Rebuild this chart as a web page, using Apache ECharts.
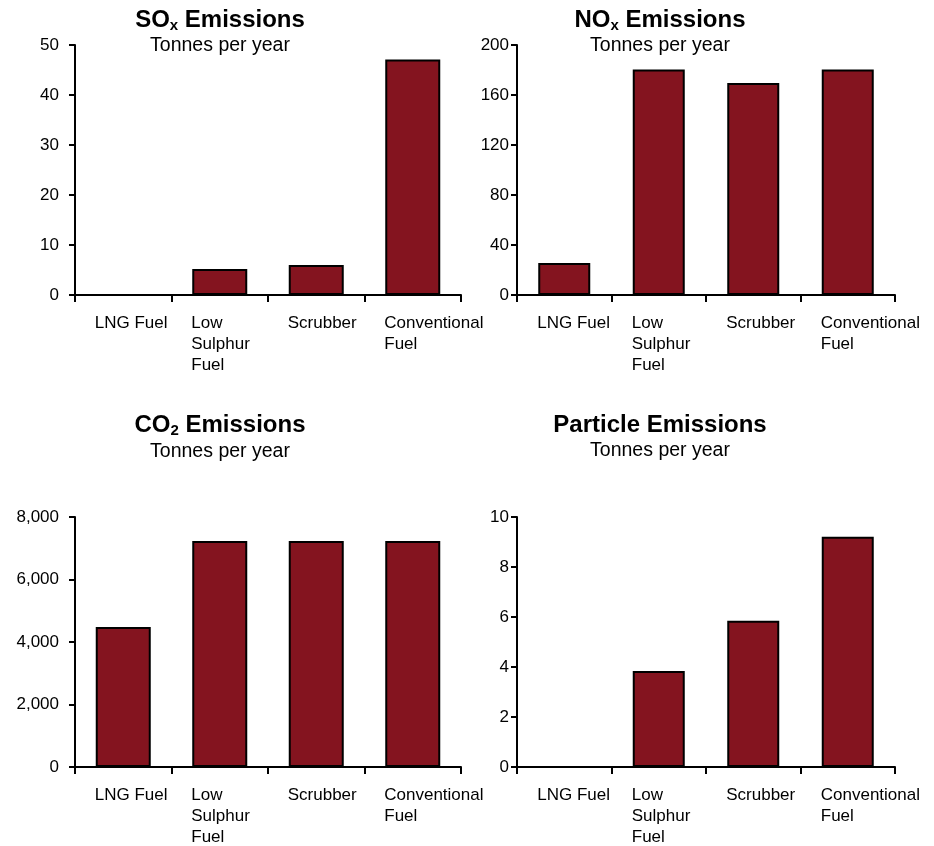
<!DOCTYPE html>
<html>
<head>
<meta charset="utf-8">
<script src="https://cdn.jsdelivr.net/npm/echarts@6/dist/echarts.min.js"></script>
<style>
html,body{margin:0;padding:0;background:#fff;}
#chart{width:934px;height:846px;}
</style>
</head>
<body>
<div id="chart"></div>
<script>
var categories = ['LNG Fuel', 'Low\nSulphur\nFuel', 'Scrubber', 'Conventional\nFuel'];
var soxValues = [0, 5.2, 6.0, 47.1];
var noxValues = [25.6, 180.5, 169.6, 180.5];
var co2Values = [4480, 7230, 7230, 7230];
var particleValues = [0, 3.84, 5.85, 9.21];
var panelTitles = [['SO', 'x', ' Emissions'], ['NO', 'x', ' Emissions'], ['CO', '2', ' Emissions'], ['Particle Emissions', '', '']];
var subtitle = 'Tonnes per year';
var yMax = [50, 200, 8000, 10];
var yInterval = [10, 40, 2000, 2];

var FONT = 'Arial, "Liberation Sans", Helvetica, sans-serif';
var BAR_COLOR = '#84141F';

var grids = [
  {left: 75, top: 45, width: 386, height: 250},
  {left: 517, top: 45, width: 378, height: 250},
  {left: 75, top: 517, width: 386, height: 250},
  {left: 517, top: 517, width: 378, height: 250}
];
var barWidths = [55, 52, 55, 52];
var titleCenters = [[220, 22], [660, 22], [220, 427], [660, 425]];
var subCenters = [[220, 46], [660, 46], [220, 452], [660, 451]];
var yLabelMargin = [16, 8, 16, 8];
var seriesData = [soxValues, noxValues, co2Values, particleValues];

var titles = [];
panelTitles.forEach(function (t, i) {
  var txt = '{a|' + t[0] + '}' + (t[1] ? '{b|' + t[1] + '}' : '') + (t[2] ? '{a|' + t[2] + '}' : '');
  titles.push({
    text: txt,
    left: titleCenters[i][0],
    top: titleCenters[i][1] - (t[1] ? 2 : 0),
    textAlign: 'center',
    textVerticalAlign: 'middle',
    padding: 0,
    textStyle: {
      rich: {
        a: {fontFamily: FONT, fontSize: 24, fontWeight: 'bold', color: '#000', lineHeight: 24, verticalAlign: 'top'},
        b: {fontFamily: FONT, fontSize: 15, fontWeight: 'bold', color: '#000', lineHeight: 15, padding: [12, 0, 0, 0]}
      }
    }
  });
  titles.push({
    text: subtitle,
    left: subCenters[i][0],
    top: subCenters[i][1],
    textAlign: 'center',
    textVerticalAlign: 'middle',
    padding: 0,
    textStyle: {fontFamily: FONT, fontSize: 19.5, fontWeight: 'normal', color: '#000'}
  });
});

function catFormatter(v) {
  return v.split('\n').map(function (s) { return '{c|' + s + '}'; }).join('\n');
}

var xAxes = [], yAxes = [], series = [];
for (var i = 0; i < 4; i++) {
  var bw = barWidths[i];
  xAxes.push({
    type: 'category',
    gridIndex: i,
    data: categories,
    boundaryGap: true,
    axisLine: {lineStyle: {color: '#000', width: 2}},
    axisTick: {show: true, length: 7, lineStyle: {color: '#000', width: 2}},
    axisLabel: {
      interval: 0,
      margin: 18,
      formatter: catFormatter,
      rich: {
        c: {fontFamily: FONT, fontSize: 17, color: '#000', width: bw + 2, align: 'left', lineHeight: 21}
      }
    },
    splitLine: {show: false}
  });
  yAxes.push({
    type: 'value',
    gridIndex: i,
    min: 0,
    max: yMax[i],
    interval: yInterval[i],
    axisLine: {show: true, lineStyle: {color: '#000', width: 2}},
    axisTick: {show: true, length: 6, lineStyle: {color: '#000', width: 2}},
    axisLabel: {margin: yLabelMargin[i], fontFamily: FONT, fontSize: 17, color: '#000'},
    splitLine: {show: false}
  });
  series.push({
    type: 'bar',
    xAxisIndex: i,
    yAxisIndex: i,
    data: seriesData[i],
    barWidth: bw,
    itemStyle: {color: BAR_COLOR, borderColor: '#000', borderWidth: 2},
    emphasis: {disabled: true}
  });
}

var chart = echarts.init(document.getElementById('chart'), null, {renderer: 'canvas'});
chart.setOption({
  animation: false,
  backgroundColor: '#fff',
  title: titles,
  grid: grids,
  xAxis: xAxes,
  yAxis: yAxes,
  series: series
});
</script>
</body>
</html>
